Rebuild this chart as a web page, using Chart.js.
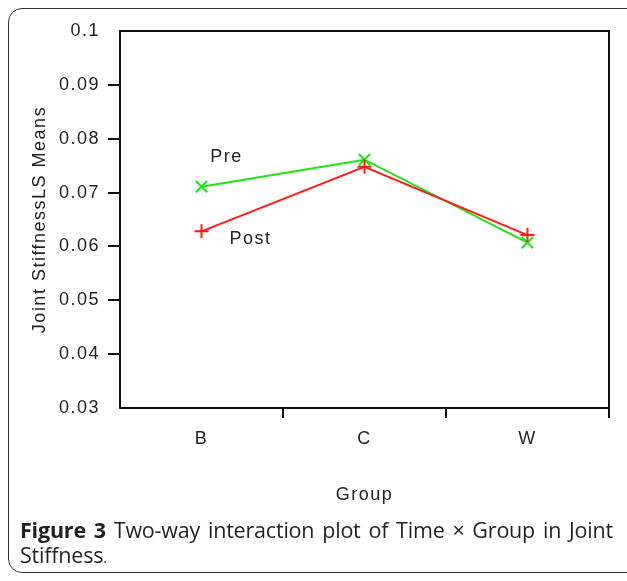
<!DOCTYPE html>
<html>
<head>
<meta charset="utf-8">
<script src="https://cdn.jsdelivr.net/npm/chart.js@4.4.1/dist/chart.umd.min.js"></script>
<style>
  html, body { margin: 0; padding: 0; background: #fff; }
  body { width: 627px; height: 581px; position: relative; overflow: hidden; }
  #frame { position: absolute; left: 8px; top: 8px; width: 640px; height: 565px;
           border: 1.5px solid #333; border-radius: 14px; box-sizing: border-box; }
  #wrap { position: absolute; left: 0; top: 0; width: 627px; height: 520px; }
  #caption { position: absolute; left: 20px; top: 517px; width: 593px;
             font-family: "Open Sans", sans-serif; font-size: 21.5px; line-height: 25px;
             color: #231f20; text-align: justify; text-align-last: left; letter-spacing: -0.2px; }
  #caption b { font-weight: 700; }
  .dot { font-size: 14px; }
</style>
</head>
<body>
<div id="frame"></div>
<div id="wrap"><canvas id="c"></canvas></div>
<div id="caption"><b>Figure 3</b> Two-way interaction plot of Time × Group in Joint Stiffness<span class="dot">.</span></div>
<script>
const categories = ["B", "C", "W"];
const preValues = [0.0711, 0.0761, 0.0607];
const postValues = [0.0628, 0.0748, 0.0621];
const yTicks = [0.03, 0.04, 0.05, 0.06, 0.07, 0.08, 0.09, 0.1];
const seriesNames = ["Pre", "Post"];
const yTitle = "Joint StiffnessLS Means";
const xTitle = "Group";

const tickFont = { family: "'Liberation Sans', Arial, sans-serif", size: 18 };

const spacingPlugin = {
  id: 'spacing',
  beforeDraw(chart) { chart.ctx.letterSpacing = '1.5px'; }
};

const boxPlugin = {
  id: 'box',
  afterDatasetsDraw(chart) {
    const { ctx, chartArea: a } = chart;
    ctx.save();
    ctx.strokeStyle = '#111';
    ctx.lineWidth = 2;
    ctx.strokeRect(a.left, a.top, a.right - a.left, a.bottom - a.top);
    ctx.restore();
  }
};

const labelPlugin = {
  id: 'seriesLabels',
  afterDatasetsDraw(chart) {
    const { ctx, scales } = chart;
    const xs = scales.x, ys = scales.y;
    ctx.save();
    ctx.letterSpacing = '1.5px';
    ctx.font = "18px 'Liberation Sans', Arial, sans-serif";
    ctx.fillStyle = '#222';
    ctx.textAlign = 'center';
    ctx.textBaseline = 'middle';
    const bx = xs.getPixelForValue(0);
    ctx.fillText(seriesNames[0], bx + 25, ys.getPixelForValue(preValues[0]) - 30);
    ctx.fillText(seriesNames[1], bx + 49, ys.getPixelForValue(postValues[0]) + 8);
    ctx.restore();
  }
};

new Chart(document.getElementById('c'), {
  type: 'line',
  data: {
    labels: categories,
    datasets: [
      {
        label: seriesNames[1], data: postValues,
        borderColor: '#ff1a1a', backgroundColor: '#ff1a1a', borderWidth: 2,
        pointStyle: 'cross', pointRadius: 7, pointBorderWidth: 2, tension: 0
      },
      {
        label: seriesNames[0], data: preValues,
        borderColor: '#19e619', backgroundColor: '#19e619', borderWidth: 2,
        pointStyle: 'crossRot', pointRadius: 8, pointBorderWidth: 2, tension: 0
      }
    ]
  },
  options: {
    responsive: true, maintainAspectRatio: false, animation: false,
    layout: { padding: { top: 31, right: 18, left: 0, bottom: 0 } },
    plugins: { legend: { display: false }, tooltip: { enabled: false } },
    scales: {
      x: {
        type: 'category', offset: true,
        grid: {
          offset: true, drawOnChartArea: false, drawTicks: true, tickLength: 10,
          lineWidth: 2,
          color: (c) => (c.index === 0 || c.index === categories.length) ? 'rgba(0,0,0,0)' : '#111'
        },
        border: { display: true, color: '#111', width: 2 },
        ticks: { color: '#222', font: tickFont, padding: 10 },
        title: { display: true, text: xTitle, color: '#222', font: tickFont, padding: { top: 0, bottom: 14 } },
        afterFit(s) { s.height = 112; }
      },
      y: {
        min: 0.03, max: 0.1,
        afterBuildTicks(s) { s.ticks = yTicks.map(v => ({ value: v })); },
        grid: {
          drawOnChartArea: false, drawTicks: true, tickLength: 12, lineWidth: 2,
          color: (c) => (c.tick && (c.tick.value === 0.1 || c.tick.value === 0.03)) ? 'rgba(0,0,0,0)' : '#111'
        },
        border: { display: true, color: '#111', width: 2 },
        ticks: { color: '#222', font: tickFont, padding: 8, callback: (v) => String(+v.toFixed(2)) },
        title: { display: true, text: yTitle, color: '#222', font: tickFont, padding: { top: 29, bottom: 0 } },
        afterFit(s) { s.width = 120; }
      }
    }
  },
  plugins: [spacingPlugin, boxPlugin, labelPlugin]
});
</script>
</body>
</html>
